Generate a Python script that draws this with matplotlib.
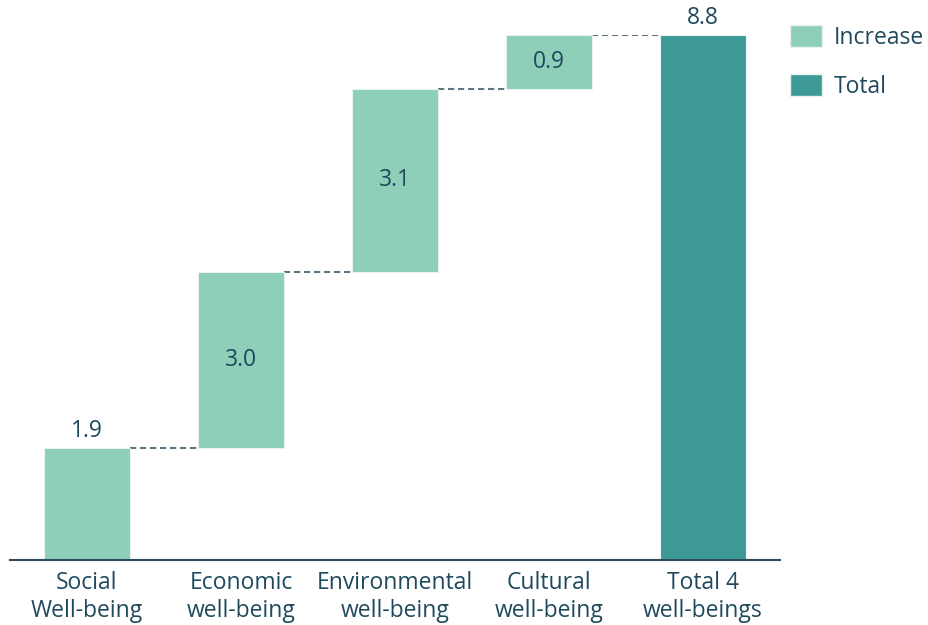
import matplotlib.pyplot as plt
from matplotlib.patches import Patch

plt.rcParams['font.family'] = ['Open Sans', 'DejaVu Sans']

# contributions per well-being, plus the combined total
categories = ["Social\nWell-being", "Economic\nwell-being", "Environmental\nwell-being",
              "Cultural\nwell-being", "Total 4\nwell-beings"]
increases = [1.88, 2.96, 3.06, 0.91]
total = sum(increases)

INC_COLOR = "#8dcfb8"
TOT_COLOR = "#3e9a96"
TEXT_COLOR = "#1f4a5e"
WIDTH = 0.56

fig = plt.figure(figsize=(9.29, 6.25), dpi=100)
ax = fig.add_axes([10 / 929, 65 / 625, 770 / 929, 525 / 625])

bottoms = []
running = 0.0
for v in increases:
    bottoms.append(running)
    running += v

x = list(range(len(categories)))
ax.bar(x[:-1], increases, bottom=bottoms, width=WIDTH, color=INC_COLOR,
       edgecolor="#e8f3ef", linewidth=0.8, zorder=2)
ax.bar(x[-1], total, width=WIDTH, color=TOT_COLOR,
       edgecolor="#e8f3ef", linewidth=0.8, zorder=2)

# dashed connectors between consecutive bars
levels = [b + v for b, v in zip(bottoms, increases)]
for i, lvl in enumerate(levels):
    ax.plot([x[i] + WIDTH / 2, x[i + 1] - WIDTH / 2], [lvl, lvl],
            ls=(0, (3, 1.8)), color="#5f7582", lw=1.5, zorder=1)

# value labels
for i, (b, v) in enumerate(zip(bottoms, increases)):
    if i == 0:
        ax.text(x[i], b + v + 0.08, f"{v:.1f}", ha="center", va="bottom",
                fontsize=16.5, color=TEXT_COLOR)
    else:
        ax.text(x[i], b + v / 2, f"{v:.1f}", ha="center", va="center",
                fontsize=16.5, color=TEXT_COLOR)
ax.text(x[-1], total + 0.08, f"{total:.1f}", ha="center", va="bottom",
        fontsize=16.5, color=TEXT_COLOR, clip_on=False)

ax.set_xlim(-0.5, len(categories) - 0.5)
ax.set_ylim(0, total)
ax.set_xticks(x)
ax.set_xticklabels(categories, fontsize=16.5, color=TEXT_COLOR, linespacing=1.2)
ax.tick_params(axis="x", length=0, pad=8)
ax.set_yticks([])
for side in ["top", "right", "left"]:
    ax.spines[side].set_visible(False)
ax.spines["bottom"].set_color("#2e4a5c")
ax.spines["bottom"].set_linewidth(1.5)

handles = [Patch(facecolor=INC_COLOR, edgecolor="#e8f3ef", label="Increase"),
           Patch(facecolor=TOT_COLOR, edgecolor="#e8f3ef", label="Total")]
fig.legend(handles=handles, loc="upper left", bbox_to_anchor=(790 / 929, 1 - 25 / 625),
           frameon=False, fontsize=16.5, labelcolor=TEXT_COLOR, borderpad=0,
           borderaxespad=0, handlelength=1.4, handleheight=1.1, handletextpad=0.5,
           labelspacing=1.05)

fig.savefig("out.png", dpi=100)
